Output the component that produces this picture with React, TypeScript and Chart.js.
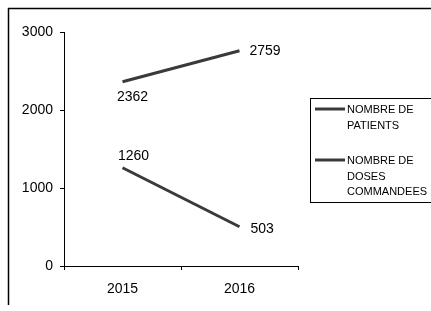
import React, { useEffect, useRef } from "react";
import { Chart, registerables } from "chart.js";

Chart.register(...registerables);

const categories = ["2015", "2016"];
const patients = [2362, 2759];
const doses = [1260, 503];
const yMin = 0;
const yMax = 3000;
const yStep = 1000;
const legendPatients = ["NOMBRE DE", "PATIENTS"];
const legendDoses = ["NOMBRE DE", "DOSES", "COMMANDEES"];

const FONT = "'Liberation Sans', Arial, sans-serif";

// label placement per dataset per point: [dx, dy, align]
const labelPlacement: [number, number, CanvasTextAlign][][] = [
  [
    [10, 15, "center"],
    [10, 0, "left"],
  ],
  [
    [11, -12, "center"],
    [11, 2, "left"],
  ],
];

const framePlugin = {
  id: "frame",
  beforeDraw(chart: any) {
    const ctx = chart.ctx;
    ctx.save();
    ctx.fillStyle = "#fff";
    ctx.fillRect(0, 0, chart.width, chart.height);
    ctx.strokeStyle = "#000";
    ctx.lineWidth = 1.5;
    ctx.beginPath();
    ctx.moveTo(8, 8.5);
    ctx.lineTo(chart.width, 8.5);
    ctx.moveTo(8.5, 8);
    ctx.lineTo(8.5, 305);
    ctx.stroke();
    ctx.restore();
  },
};

const labelsPlugin = {
  id: "valueLabels",
  afterDatasetsDraw(chart: any) {
    const ctx = chart.ctx;
    ctx.save();
    ctx.font = `14px ${FONT}`;
    ctx.fillStyle = "#000";
    ctx.textBaseline = "middle";
    chart.data.datasets.forEach((ds: any, di: number) => {
      const meta = chart.getDatasetMeta(di);
      meta.data.forEach((pt: any, i: number) => {
        const [dx, dy, align] = labelPlacement[di][i];
        ctx.textAlign = align;
        ctx.fillText(String(ds.data[i]), pt.x + dx, pt.y + dy);
      });
    });
    ctx.restore();
  },
};

const legendPlugin = {
  id: "customLegend",
  afterDraw(chart: any) {
    const ctx = chart.ctx;
    ctx.save();
    ctx.strokeStyle = "#000";
    ctx.lineWidth = 1;
    ctx.strokeRect(310.5, 98.5, 140, 104);
    const items = [
      { lines: legendPatients, y: 110 },
      { lines: legendDoses, y: 161 },
    ];
    ctx.font = `11px ${FONT}`;
    ctx.fillStyle = "#000";
    ctx.textBaseline = "middle";
    ctx.textAlign = "left";
    items.forEach((it, idx) => {
      const ds = chart.data.datasets[idx];
      ctx.strokeStyle = ds.borderColor;
      ctx.lineWidth = ds.borderWidth;
      ctx.beginPath();
      ctx.moveTo(315, it.y - 1);
      ctx.lineTo(345, it.y - 1);
      ctx.stroke();
      it.lines.forEach((t, li) => {
        ctx.fillText(t, 347, it.y + li * 15.5);
      });
    });
    ctx.restore();
  },
};

export default function App() {
  const ref = useRef<HTMLCanvasElement | null>(null);
  useEffect(() => {
    if (!ref.current) return;
    const chart = new Chart(ref.current, {
      type: "line",
      data: {
        labels: categories,
        datasets: [
          {
            label: legendPatients.join(" "),
            data: patients,
            borderColor: "#3a3a3a",
            borderWidth: 3,
            pointRadius: 0,
            fill: false,
          },
          {
            label: legendDoses.join(" "),
            data: doses,
            borderColor: "#3a3a3a",
            borderWidth: 3,
            pointRadius: 0,
            fill: false,
          },
        ],
      },
      options: {
        animation: false,
        responsive: false,
        layout: { padding: { top: 32, right: 133, left: 0, bottom: 0 } },
        plugins: {
          legend: { display: false },
          tooltip: { enabled: false },
        },
        scales: {
          x: {
            type: "category",
            offset: true,
            grid: {
              display: true,
              drawOnChartArea: false,
              drawTicks: true,
              tickLength: 4,
              offset: true,
              color: "#000",
            },
            border: { display: true, color: "#000", width: 1 },
            ticks: {
              color: "#000",
              font: { family: FONT, size: 14 },
              padding: 11,
              maxRotation: 0,
            },
            afterFit: (s: any) => {
              s.height = 45;
            },
          },
          y: {
            min: yMin,
            max: yMax,
            grid: {
              display: true,
              drawOnChartArea: false,
              drawTicks: true,
              tickLength: 4,
              color: "#000",
            },
            border: { display: true, color: "#000", width: 1 },
            ticks: {
              stepSize: yStep,
              color: "#000",
              font: { family: FONT, size: 14 },
              padding: 7,
              callback: (v: any) => String(v),
            },
            afterFit: (s: any) => {
              s.width = 64;
            },
          },
        },
      },
      plugins: [framePlugin, labelsPlugin, legendPlugin],
    });
    return () => chart.destroy();
  }, []);
  return (
    <div style={{ position: "fixed", left: 0, top: 0, width: 431, height: 311 }}>
      <canvas ref={ref} width={431} height={311} style={{ display: "block" }} />
    </div>
  );
}
